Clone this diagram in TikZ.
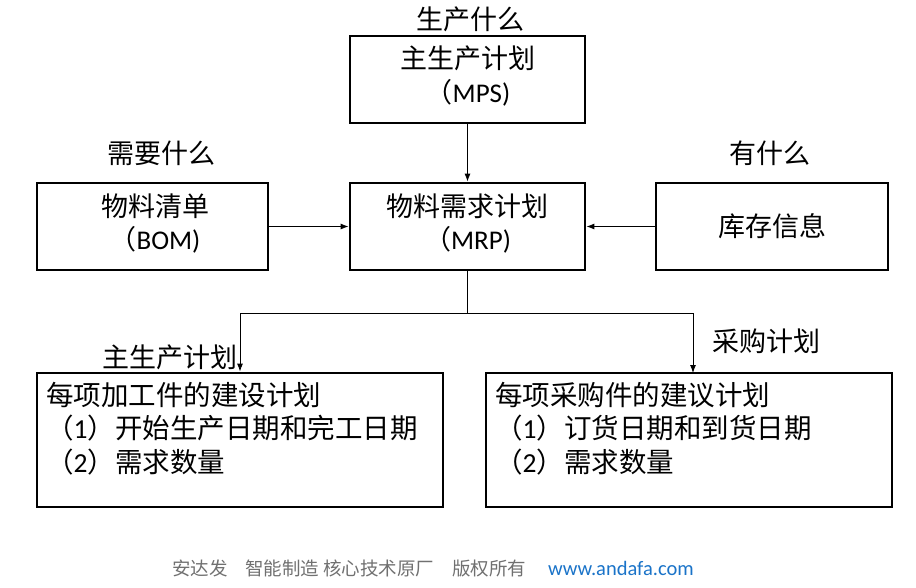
\documentclass[tikz,border=0pt]{standalone}
\usepackage{fontspec}
\setmainfont{Carlito}
\newfontfamily\cjk{Noto Sans CJK SC}
\usetikzlibrary{arrows.meta}
\definecolor{footgray}{HTML}{707070}
\definecolor{footblue}{HTML}{1A73C8}
\begin{document}
\begin{tikzpicture}[x=1pt,y=-1pt,
  box/.style={draw,line width=2.8pt,inner sep=0pt},
  conn/.style={line width=0.9pt},
  arr/.style={conn,-{Latex[length=8pt,width=6pt]}},
  lbl/.style={font=\fontsize{27}{30}\selectfont\cjk,inner sep=0pt},
  body/.style={font=\fontsize{27.5}{33.5}\selectfont\cjk,inner sep=0pt,align=left,anchor=north west},
  foot/.style={font=\fontsize{18.5}{20}\selectfont\cjk,inner sep=0pt,anchor=west,text=footgray},
]
\useasboundingbox (0,0) rectangle (916,587);
% boxes
\node[box,minimum width=235pt,minimum height=87pt] (mps) at (467.5,79.5) {};
\node[box,minimum width=231pt,minimum height=87pt] (bom) at (152.5,226.5) {};
\node[box,minimum width=235pt,minimum height=87pt] (mrp) at (467.5,226.5) {};
\node[box,minimum width=232pt,minimum height=87pt] (inv) at (772,226.5) {};
\node[box,minimum width=406pt,minimum height=134pt] (pl) at (240,440) {};
\node[box,minimum width=406pt,minimum height=134pt] (pr) at (689,440) {};
% box texts
\node[lbl] (t1) at (468,58) {主生产计划};
\node[lbl] (t2) at (468,93) {（\fontspec{Carlito}MPS)};
\node[lbl] (t3) at (155,206) {物料清单};
\node[lbl] (t4) at (155,240) {（\fontspec{Carlito}BOM)};
\node[lbl] (t5) at (467.5,206) {物料需求计划};
\node[lbl] (t6) at (467.5,240) {（\fontspec{Carlito}MRP)};
\node[lbl] (t7) at (772,226.5) {库存信息};
\node[body] (t8) at (46,382) {每项加工件的建设计划\\（\fontspec{Carlito}1\cjk）开始生产日期和完工日期\\（\fontspec{Carlito}2\cjk）需求数量};
\node[body] (t9) at (495,382) {每项采购件的建议计划\\（\fontspec{Carlito}1\cjk）订货日期和到货日期\\（\fontspec{Carlito}2\cjk）需求数量};
% outer labels
\node[lbl] (l1) at (470,19) {生产什么};
\node[lbl] (l2) at (161,153) {需要什么};
\node[lbl] (l3) at (770,153) {有什么};
\node[lbl] (l4) at (170,357) {主生产计划};
\node[lbl] (l5) at (766,341) {采购计划};
% connectors
\coordinate (j) at (467.5,313);
\coordinate (pt) at (693,373);
\draw[arr] (mps) -- (mrp);
\draw[arr] (bom) -- (mrp);
\draw[arr] (inv) -- (mrp);
\draw[conn] (mrp.south) -- (j);
\draw[arr] (j) -| (pl.north);
\draw[arr] (j) -| (pt);
% footer
\node[foot] (f1) at (172,568) {安达发};
\node[foot] (f2) at (245,568) {智能制造 核心技术原厂};
\node[foot] (f3) at (452,568) {版权所有};
\node[foot,font=\fontsize{20.5}{22}\selectfont,text=footblue] (f4) at (548,568) {www.andafa.com};
\end{tikzpicture}
\end{document}
